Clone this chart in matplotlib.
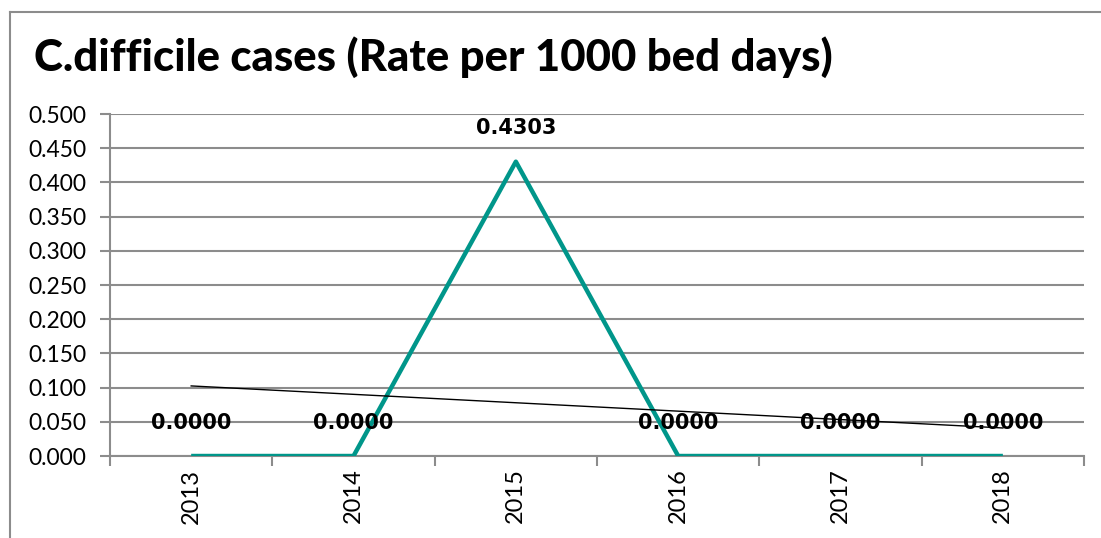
import numpy as np
import matplotlib
matplotlib.use("Agg")
import matplotlib.pyplot as plt
from matplotlib.lines import Line2D

years = ["2013", "2014", "2015", "2016", "2017", "2018"]
rates = [0.0, 0.0, 0.4303, 0.0, 0.0, 0.0]
y_ticks = [0.0, 0.05, 0.10, 0.15, 0.20, 0.25, 0.30, 0.35, 0.40, 0.45, 0.50]

teal = "#00968a"
grid_grey = "#8c8c8c"

fig = plt.figure(figsize=(11.01, 5.38), dpi=100)
ax = fig.add_axes([0.0999, 0.1524, 0.8847, 0.6357])

x = np.arange(len(years))
ax.plot(x, rates, color=teal, lw=3.2, solid_capstyle="butt", zorder=3)

# linear trendline
slope, intercept = np.polyfit(x, rates, 1)
ax.plot(x, slope * x + intercept, color="black", lw=1.0, zorder=4)

for xi, v in zip(x, rates):
    ax.annotate(f"{v:.4f}", (xi, v), xytext=(0, 24), textcoords="offset points",
                ha="center", va="center", fontsize=15, fontweight="bold",
                family="DejaVu Sans", zorder=5)

ax.set_xlim(-0.5, len(years) - 0.5)
ax.set_ylim(0, 0.5)
ax.set_yticks(y_ticks)
ax.set_yticklabels([f"{t:.3f}" for t in y_ticks], family="Lato", fontsize=16.5)
ax.set_xticks(x)
ax.set_xticklabels(years, rotation=90, family="Lato", fontsize=17)
ax.set_xticks(np.arange(-0.5, len(years)), minor=True)
ax.tick_params(axis="x", which="major", length=0, pad=9)
ax.tick_params(axis="x", which="minor", length=7, color=grid_grey, width=1.5, direction="out")
ax.tick_params(axis="y", length=7, color=grid_grey, width=1.5, pad=10)
ax.grid(axis="y", color=grid_grey, lw=1.5)
ax.set_axisbelow(True)
for s in ["top", "right"]:
    ax.spines[s].set_visible(False)
for s in ["left", "bottom"]:
    ax.spines[s].set_color(grid_grey)
    ax.spines[s].set_linewidth(1.5)

fig.text(0.031, 0.894, "C.difficile cases (Rate per 1000 bed days)", family="Lato",
         fontweight="black", fontsize=31.5, va="center", ha="left")

# outer chart border
fig.add_artist(Line2D([0.0095, 0.0095], [0, 0.978], color=grid_grey, lw=1.5, transform=fig.transFigure))
fig.add_artist(Line2D([0.0095, 1.0], [0.978, 0.978], color=grid_grey, lw=1.5, transform=fig.transFigure))

fig.savefig("out.png", dpi=100)
